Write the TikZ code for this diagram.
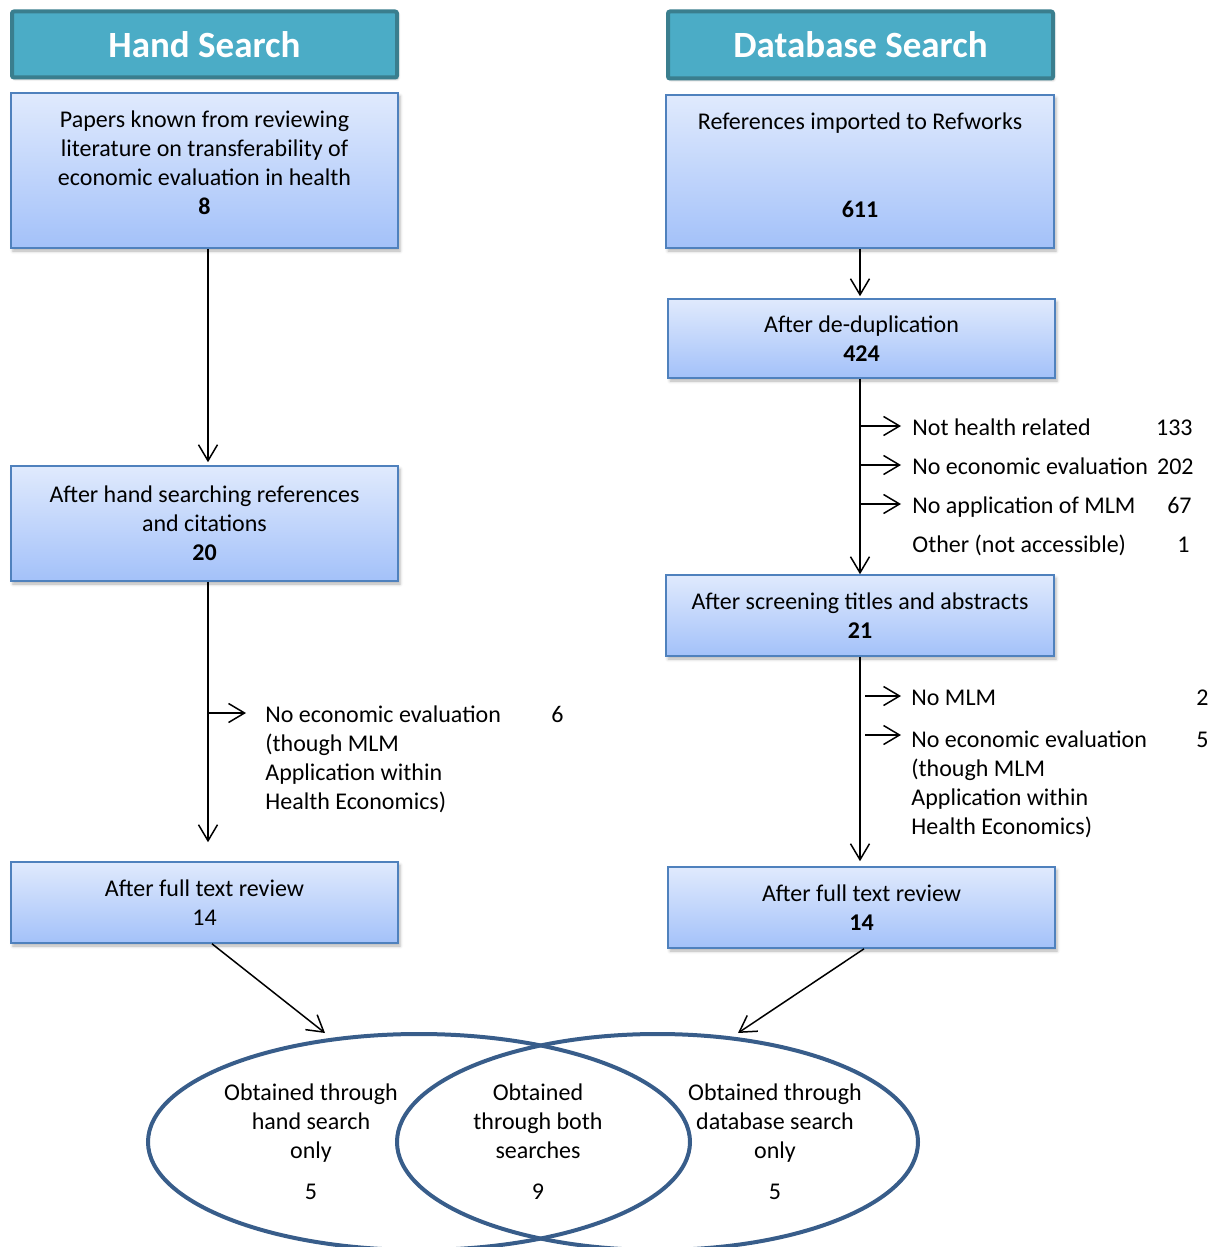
\documentclass[tikz,border=0pt]{standalone}
\usepackage{fontspec}
\setmainfont{Carlito}
\usetikzlibrary{arrows.meta,calc,shadows.blur,shapes.geometric}

\definecolor{headfill}{RGB}{75,172,198}
\definecolor{headline}{RGB}{58,126,142}
\definecolor{boxtop}{RGB}{224,234,253}
\definecolor{boxbot}{RGB}{163,193,249}
\definecolor{boxline}{RGB}{79,129,189}
\definecolor{vennline}{RGB}{56,93,138}

\begin{document}
\begin{tikzpicture}[x=0.5pt,y=-0.5pt,
  every node/.style={font=\fontsize{12}{14.5}\selectfont},
  headbox/.style={draw=headline, line width=2pt, rounded corners=1pt, fill=headfill, text=white,
    minimum width=192.5pt, minimum height=33pt, inner sep=0pt,
    font=\bfseries\fontsize{18.5}{22}\selectfont,
    blur shadow={shadow xshift=0.8pt, shadow yshift=-1pt, shadow blur radius=1pt, shadow opacity=25}},
  flowbox/.style={draw=boxline, line width=0.8pt, top color=boxtop, bottom color=boxbot,
    minimum width=193.5pt, align=center, inner sep=0pt,
    blur shadow={shadow xshift=1pt, shadow yshift=-1.5pt, shadow blur radius=1.5pt, shadow opacity=30}},
  flowtext/.style={align=center, inner sep=0pt},
  link/.style={line width=0.75pt, -{Straight Barb[length=8pt,width=9.5pt]}},
  venn/.style={draw=vennline, line width=2pt, ellipse, inner sep=0pt},
  side/.style={anchor=base west, inner sep=0pt, align=left},
  count/.style={anchor=base east, inner sep=0pt},
]
\useasboundingbox (0,0) rectangle (1228,1247);

% column headers
\node[headbox] (hh) at (204.5,44.5) {Hand Search};
\node[headbox, minimum height=33.5pt] (dh) at (860.5,45) {Database Search};

% hand search column
\node[flowbox, minimum height=77.5pt] (l1) at (204.5,170.5) {};
\node[flowtext] (l1t) at (204.5,163) {Papers known from reviewing\\literature on transferability of\\economic evaluation in health\\\textbf{8}};
\node[flowbox, minimum height=57.5pt] (l2) at (204.5,523.5) {After hand searching references\\and citations\\\textbf{20}};
\node[flowbox, minimum height=40.5pt] (l3) at (204.5,902.5) {After full text review\\14};

% database search column
\node[flowbox, minimum width=194pt, minimum height=76.5pt] (r1) at (860,171.5) {};
\node[flowtext] (r1t) at (860,165) {References imported to Refworks\\[29.5pt]\textbf{611}};
\node[flowbox, minimum height=39.5pt] (r2) at (861.5,338.5) {After de-duplication\\\textbf{424}};
\node[flowbox, minimum width=194pt, minimum height=40.5pt] (r3) at (860,615.5) {After screening titles and abstracts\\\textbf{21}};
\node[flowbox, minimum height=40.5pt] (r4) at (861.5,907.5) {After full text review\\\textbf{14}};

% vertical flow lines
\coordinate (lx) at (208,0);
\coordinate (rx) at (860,0);
\draw[link, shorten >=1.5pt] (l1.south -| lx) -- (l2.north -| lx);
\draw[link, shorten >=9.5pt] (l2.south -| lx) -- (l3.north -| lx);
\draw[link, shorten >=1pt] (r1.south -| rx) -- (r2.north -| rx);
\draw[link] (r2.south -| rx) -- (r3.north -| rx);
\draw[link, shorten >=2.5pt] (r3.south -| rx) -- (r4.north -| rx);

% exclusions, hand search (base of a multi-line node is its last line)
\coordinate (lb) at (246,713);
\draw[link] (lx |- lb) -- (lb);
\node[side] (lbt) at (265,809) {No economic evaluation\\(though MLM\\Application within\\Health Economics)};
\node[count] (lbn) at (564,722) {6};

% exclusions after de-duplication
\coordinate (rb1) at (901,426);
\coordinate (rb2) at (901,465);
\coordinate (rb3) at (901,504);
\draw[link] (rx |- rb1) -- (rb1);
\draw[link] (rx |- rb2) -- (rb2);
\draw[link] (rx |- rb3) -- (rb3);
\node[side] (e1) at (912,435) {Not health related};
\node[side] (e2) at (912,474) {No economic evaluation};
\node[side] (e3) at (912,513) {No application of MLM};
\node[side] (e4) at (912,552) {Other (not accessible)};
\node[count] (n1) at (1193,435) {133};
\node[count] (n2) at (1194,474) {202};
\node[count] (n3) at (1192,513) {67};
\node[count] (n4) at (1190,552) {1};

% exclusions after screening
\coordinate (rc1s) at (865,696);
\coordinate (rc1) at (901,696);
\coordinate (rc2s) at (865,735);
\coordinate (rc2) at (901,735);
\draw[link] (rc1s) -- (rc1);
\draw[link] (rc2s) -- (rc2);
\node[side] (f1) at (911,705) {No MLM};
\node[side] (f2) at (911,834) {No economic evaluation\\(though MLM\\Application within\\Health Economics)};
\node[count] (m1) at (1209,705) {2};
\node[count] (m2) at (1209,747) {5};

% overlap of the two searches
\begin{scope}
\clip (0,0) rectangle (1228,1247);
\node[venn, minimum width=271pt, minimum height=108pt] (vh) at (419,1142) {};
\node[venn, minimum width=260.5pt, minimum height=108pt] (vd) at (657.5,1142) {};
\end{scope}
\node[flowtext] (vht) at (311,1142) {Obtained through\\hand search\\only\\[6pt]5};
\node[flowtext] (vbt) at (538,1142) {Obtained\\through both\\searches\\[6pt]9};
\node[flowtext] (vdt) at (775,1142) {Obtained through\\database search\\only\\[6pt]5};

\coordinate (vhin) at (325,1033);
\coordinate (vdin) at (738,1033);
\draw[link] ($(l3.south)+(7.5,0)$) -- (vhin);
\draw[link] ($(r4.south)+(2.5,0)$) -- (vdin);
\end{tikzpicture}
\end{document}
